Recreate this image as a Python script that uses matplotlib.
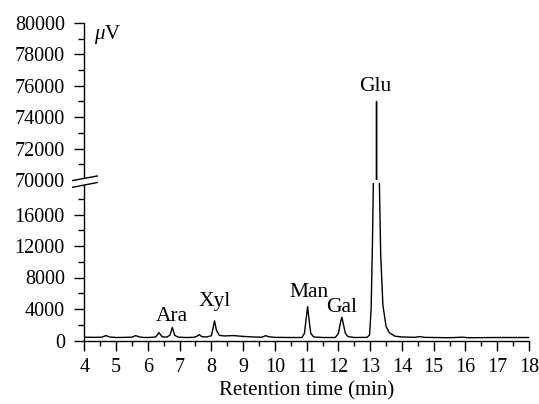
import matplotlib
matplotlib.use("Agg")
import matplotlib.pyplot as plt
from matplotlib.lines import Line2D
from matplotlib.patches import Polygon
from matplotlib.ticker import MultipleLocator, FixedLocator

plt.rcParams['font.family'] = ['Liberation Serif', 'DejaVu Serif']
plt.rcParams['mathtext.fontset'] = 'custom'
plt.rcParams['mathtext.it'] = 'Liberation Serif:italic'
plt.rcParams['mathtext.rm'] = 'Liberation Serif'

# ---- data ----
time_min = [4.0, 4.3, 4.55, 4.68, 4.8, 5.0, 5.3, 5.5, 5.62, 5.75, 5.9, 6.1, 6.25, 6.35, 6.45,
            6.6, 6.7, 6.77, 6.85, 6.95, 7.2, 7.45, 7.55, 7.62, 7.7, 7.85, 8.0, 8.05, 8.10, 8.16,
            8.25, 8.4, 8.7, 9.0, 9.3, 9.6, 9.71, 9.8, 10.0, 10.5, 10.85, 10.93, 10.98, 11.03,
            11.08, 11.13, 11.22, 11.5, 11.9, 12.0, 12.06, 12.11, 12.16, 12.22, 12.3, 12.5,
            12.9, 12.98, 13.03, 13.07, 13.10, 13.195, 13.20, 13.205, 13.29, 13.33, 13.4, 13.5,
            13.6, 13.78, 14.0, 14.4, 14.55, 14.7, 15.5, 15.9, 16.1, 17.0, 17.5, 18.0]
signal_uv = [420, 400, 420, 620, 450, 380, 400, 420, 620, 430, 380, 400, 450, 1000, 480,
             430, 700, 1650, 650, 430, 380, 400, 550, 750, 480, 450, 600, 1500, 2500, 1300,
             650, 580, 620, 520, 450, 420, 620, 480, 400, 380, 380, 900, 2600, 4300,
             2500, 900, 450, 380, 380, 900, 2200, 2950, 2000, 900, 500, 380,
             400, 700, 4000, 12000, 20000, 70000, 75000, 70000, 20000, 11000, 4500, 1800,
             1000, 550, 450, 400, 500, 400, 350, 420, 350, 380, 380, 380]

peak_names = ['Ara', 'Xyl', 'Man', 'Gal', 'Glu']
peak_times = [6.77, 8.10, 11.03, 12.11, 13.20]
peak_heights = [1650, 2500, 4300, 2950, 75000]

lower_major = [0, 4000, 8000, 12000, 16000]
lower_minor = [2000, 6000, 10000, 14000, 18000]
upper_major = [70000, 72000, 74000, 76000, 78000, 80000]
upper_minor = [71000, 73000, 75000, 77000, 79000]
x_ticks = list(range(4, 19))

# ---- layout ----
W, H = 539, 404
fig = plt.figure(figsize=(W / 100, H / 100), dpi=100)

def fx(px):
    return px / W

def fy(py):
    return 1 - py / H

left, right = fx(84.3), fx(529)
ax_top = fig.add_axes([left, fy(180), right - left, fy(23) - fy(180)])
ax_bot = fig.add_axes([left, fy(340.5), right - left, fy(183) - fy(340.5)])

for ax in (ax_top, ax_bot):
    ax.plot(time_min, signal_uv, color='black', lw=1.0)
    ax.set_xlim(4, 18)
    ax.spines['right'].set_visible(False)
    ax.spines['top'].set_visible(False)
    ax.spines['left'].set_linewidth(1.0)
    ax.spines['bottom'].set_linewidth(1.0)
    ax.tick_params(axis='y', which='major', length=7.5, width=1.0, labelsize=14.5, pad=6.5)
    ax.tick_params(axis='y', which='minor', length=4, width=1.0)
    ax.patch.set_alpha(0)

ax_top.set_ylim(70000, 80000)
ax_top.yaxis.set_major_locator(FixedLocator(upper_major))
ax_top.yaxis.set_minor_locator(FixedLocator(upper_minor))
ax_top.spines['bottom'].set_visible(False)
ax_top.tick_params(axis='x', which='both', bottom=False, labelbottom=False)

ax_bot.set_ylim(0, 20000)
ax_bot.yaxis.set_major_locator(FixedLocator(lower_major))
ax_bot.yaxis.set_minor_locator(FixedLocator(lower_minor))
ax_bot.xaxis.set_major_locator(FixedLocator(x_ticks))
ax_bot.xaxis.set_minor_locator(MultipleLocator(0.5))
ax_bot.tick_params(axis='x', which='major', length=7, width=1.0, labelsize=14.5, pad=5.5)
ax_bot.tick_params(axis='x', which='minor', length=3.5, width=1.0)
ax_bot.set_xlabel('Retention time (min)', fontsize=15, labelpad=3)

# unit label
ax_top.text(0.022, 0.924, r'$\mu$V', transform=ax_top.transAxes, fontsize=15,
            ha='left', va='center')

# peak labels (offsets in points above each peak)
label_offsets = [(0, 5), (0, 10.5), (1, 7), (0, 4), (-1, 7.5)]
for name, t, h, off in zip(peak_names, peak_times, peak_heights, label_offsets):
    ax = ax_top if h > 20000 else ax_bot
    ax.annotate(name, (t, h), xytext=off, textcoords='offset points',
                ha='center', va='baseline', fontsize=15.5)

# axis break marks
top_line = [(72.7, 180.5), (97.3, 176)]
bot_line = [(72.7, 187.3), (97.3, 182.5)]
poly = Polygon([(fx(x), fy(y)) for x, y in top_line + bot_line[::-1]],
               closed=True, transform=fig.transFigure, facecolor='white',
               edgecolor='none', zorder=10)
fig.add_artist(poly)
for seg in (top_line, bot_line):
    fig.add_artist(Line2D([fx(p[0]) for p in seg], [fy(p[1]) for p in seg],
                          transform=fig.transFigure, color='black', lw=1.0, zorder=11))

fig.savefig('out.png', dpi=100)
